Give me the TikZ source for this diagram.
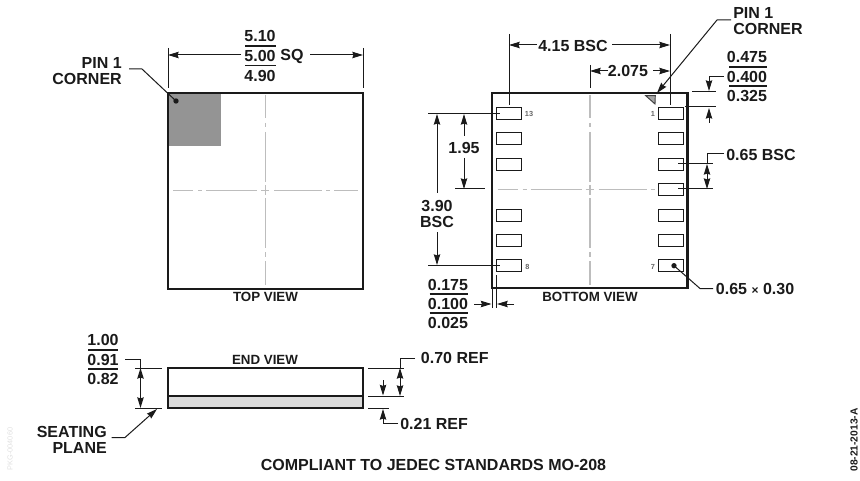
\documentclass[tikz,border=0pt]{standalone}
\usepackage{fontspec}
\setmainfont{Liberation Sans}
\usetikzlibrary{arrows.meta}
\definecolor{ink}{HTML}{1A1A1A}
\tikzset{
  x=0.75pt,y=-0.75pt,
  dim/.style={draw=ink,line width=0.75pt},
  tip/.style={-{Stealth[length=8pt,width=4.8pt,inset=0.8pt]}},
  bothtip/.style={{Stealth[length=8pt,width=4.8pt,inset=0.8pt]}-{Stealth[length=8pt,width=4.8pt,inset=0.8pt]}},
  outline/.style={draw=ink,line width=1.6pt},
  padbox/.style={draw=ink,line width=1.25pt,fill=white,outer sep=0pt,minimum width=18.75pt,minimum height=9pt,inner sep=0pt,anchor=north west},
  clv/.style={draw=black!26,line width=0.85pt,dash pattern=on 17.25pt off 3.75pt on 3pt off 3.75pt on 37.5pt off 2.25pt on 7.5pt off 2.25pt on 37.5pt off 3pt on 3.75pt off 3pt on 18pt},
  clh/.style={draw=black!26,line width=0.85pt,dash pattern=on 15pt off 3.75pt on 3pt off 3pt on 38.25pt off 3pt on 6pt off 3.75pt on 36pt off 3pt on 3pt off 3pt on 18pt},
  lab/.style={font=\fontsize{12}{12}\bfseries\selectfont,text=ink,inner sep=0pt},
  view/.style={font=\fontsize{10}{11}\bfseries\selectfont,text=ink,inner sep=0pt},
  pinno/.style={font=\fontsize{5.5}{6}\bfseries\selectfont,text=black!60,inner sep=0pt},
  fracbar/.style={draw=ink,line width=0.8pt},
}
\begin{document}
\begin{tikzpicture}
\useasboundingbox (0,0) rectangle (860,481);
% TOP VIEW
\fill[black!42] (168,93) rectangle (221,146);
\draw[clv] (265.5,95) -- (265.5,285);
\draw[clh] (173,190.5) -- (358,190.5);
\draw[outline] (168,93) rectangle (363,289);
\node[view] (topv) at (265.5,297) {TOP VIEW};
\coordinate (el) at (168,55); \coordinate (er) at (363,55);
\draw[dim] (168,48) -- (168,88);
\draw[dim] (363,48) -- (363,88);
\node[lab] (a1) at (260,36) {5.10};
\node[lab] (a2) at (260,56) {5.00};
\node[lab] (a3) at (260,76) {4.90};
\node[lab] (asq) at (292,56) {SQ};
\draw[fracbar] (245,46) -- (276,46) (245,65.5) -- (276,65.5);
\draw[dim,tip] (241,55) -- (el);
\draw[dim,tip] (310,55) -- (er);
\node[lab,align=right,anchor=east] (p1) at (122,71) {PIN 1\\CORNER};
\coordinate (p1d) at (176,101);
\fill[ink] (p1d) circle (2pt);
\draw[dim] (129,69) -- (142,69) -- (p1d);
% BOTTOM VIEW
\draw[clv] (590,95) -- (590,285);
\draw[clh] (497.5,189.5) -- (682.5,189.5);
\draw[outline] (492,92.7) rectangle (687.5,288);
\foreach \y in {107.5,132.5,158.5,209.5,234.5,259.5} {\node[padbox] at (496.5,\y) {};}
\foreach \y in {107.5,132.5,158.5,183.5,209.5,234.5,259.5} {\node[padbox] at (658.5,\y) {};}
\node[pinno] (n13) at (529,113.5) {13};
\node[pinno] (n1) at (653,113.5) {1};
\node[pinno] (n8) at (527.5,267) {8};
\node[pinno] (n7) at (653,267) {7};
\draw[draw=black!75,fill=black!35,line width=0.7pt] (645.7,95.7) -- (655.3,95.7) -- (655,104) -- cycle;
\node[view] (botv) at (590,297) {BOTTOM VIEW};
% 4.15
\draw[dim] (509,34) -- (509,105);
\draw[dim] (670,34) -- (670,105);
\node[lab] (d415) at (573,45.5) {4.15 BSC};
\draw[dim,tip] (537,45) -- (509,45);
\draw[dim,tip] (612,45) -- (670,45);
% 2.075
\draw[dim] (590,65) -- (590,88);
\node[lab] (d2075) at (628,71) {2.075};
\draw[dim,tip] (608,71) -- (590,71);
\draw[dim,tip] (653,71) -- (670,71);
% Pin 1 right
\node[lab,align=left,anchor=west] (p2) at (733,21) {PIN 1\\CORNER};
\draw[dim,tip] (731,20) -- (717,20) -- (657,93);
% 0.475
\node[lab] (b1) at (747,57) {0.475};
\node[lab] (b2) at (747,77) {0.400};
\node[lab] (b3) at (747,96) {0.325};
\draw[fracbar] (729,67) -- (767,67) (729,86) -- (767,86);
\draw[dim] (692,92) -- (716,92);
\draw[dim] (685,107) -- (716,107);
\draw[dim,tip] (724,77) -- (709,77) -- (709,91);
\draw[dim,tip] (709,123) -- (709,108);
% 0.65 BSC
\node[lab,anchor=west] (c1) at (726,154.5) {0.65 BSC};
\draw[dim] (678,164) -- (713,164);
\draw[dim] (678,189) -- (713,189);
\draw[dim] (724,154) -- (707,154) -- (707,164);
\draw[dim,bothtip] (707,164) -- (707,189);
% 1.95
\draw[dim] (428,113.5) -- (500,113.5);
\draw[dim] (455,189) -- (485,189);
\node[lab] (d195) at (464,147.5) {1.95};
\draw[dim,tip] (464,136) -- (464,114);
\draw[dim,tip] (464,158) -- (464,189);
% 3.90
\draw[dim] (428,265.7) -- (500,265.7);
\node[lab,align=center] (d390) at (437,213.5) {3.90\\BSC};
\draw[dim,tip] (437,193) -- (437,114);
\draw[dim,tip] (437,232) -- (437,265);
% 0.175
\node[lab] (e1) at (448,285) {0.175};
\node[lab] (e2) at (448,304) {0.100};
\node[lab] (e3) at (448,323) {0.025};
\draw[fracbar] (429.5,294) -- (467.5,294) (429.5,313) -- (467.5,313);
\draw[dim] (496.5,275) -- (496.5,308);
\draw[dim] (492,288) -- (492,308);
\draw[dim,tip] (474,304) -- (491.5,304);
\draw[dim,tip] (514,304) -- (497,304);
% 0.65x0.30
\node[lab,anchor=west] (f1) at (715.7,289) {0.65 {\fontsize{9}{10}\selectfont×} 0.30};
\coordinate (f1d) at (674,265.7);
\fill[ink] (f1d) circle (2pt);
\draw[dim] (713,288.5) -- (700,288.5) -- (f1d);
% END VIEW
\fill[black!14] (168,396) rectangle (363,408);
\draw[outline] (168,368) rectangle (363,408);
\draw[draw=ink,line width=1.2pt] (168,396) -- (363,396);
\node[view] (endv) at (265,359.5) {END VIEW};
\node[lab] (g1) at (103,340) {1.00};
\node[lab] (g2) at (103,359.5) {0.91};
\node[lab] (g3) at (103,379) {0.82};
\draw[fracbar] (88,350) -- (118,350) (88,369) -- (118,369);
\draw[dim] (135,368) -- (162,368);
\draw[dim] (135,408) -- (162,408);
\draw[dim] (125,359) -- (140.5,359) -- (140.5,368);
\draw[dim,bothtip] (140.5,368) -- (140.5,408);
\node[lab,align=right,anchor=east] (s1) at (107,440) {SEATING\\PLANE};
\draw[dim,tip] (111.5,437.5) -- (125,437.5) -- (157,409);
\draw[dim] (368,368) -- (404,368);
\draw[dim] (368,396) -- (404,396);
\draw[dim] (368,408) -- (389,408);
\draw[dim] (415,358) -- (400,358) -- (400,368);
\draw[dim,bothtip] (400,368) -- (400,396);
\node[lab,anchor=west] (h1) at (420.7,358) {0.70 REF};
\draw[dim,tip] (383,380) -- (383,395.5);
\draw[dim,tip] (398,423) -- (383,423) -- (383,409);
\node[lab,anchor=west] (h2) at (400,423.5) {0.21 REF};
\node[lab] (comp) at (433.5,465) {COMPLIANT TO JEDEC STANDARDS MO-208};
\node[font=\fontsize{5.5}{6}\selectfont,text=black!12,rotate=90,inner sep=0pt] (pkg) at (10,449) {PKG-004060};
\node[font=\fontsize{7.7}{8}\bfseries\selectfont,text=ink,rotate=90,inner sep=0pt] (date) at (854,440) {08-21-2013-A};
\end{tikzpicture}
\end{document}
